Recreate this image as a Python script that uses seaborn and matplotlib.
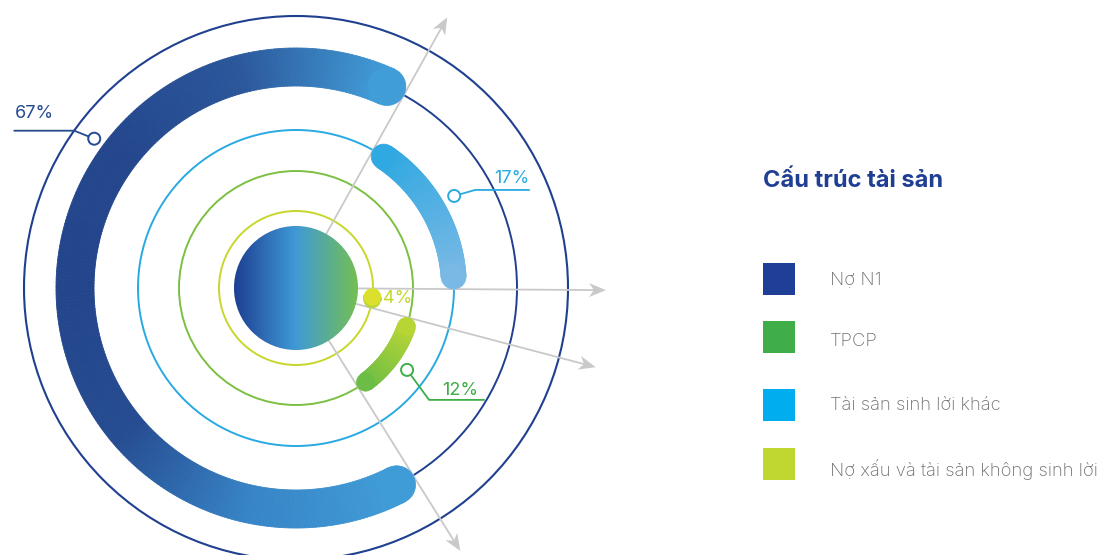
import numpy as np
import matplotlib
matplotlib.use("Agg")
import matplotlib.pyplot as plt
from matplotlib.collections import PolyCollection
from matplotlib.patches import Circle, Polygon
import seaborn as sns

# ---- data -------------------------------------------------------------
categories = ["Nợ N1", "TPCP", "Tài sản sinh lời khác", "Nợ xấu và tài sản không sinh lời"]
shares = [67, 12, 17, 4]
share_labels = ["67%", "12%", "17%", "4%"]
legend_title = "Cấu trúc tài sản"

# ---- styling ----------------------------------------------------------
sns.set_theme(style="white")
plt.rcParams["font.family"] = ["Inter", "DejaVu Sans"]

legend_colors = ["#1f3f96", "#3fae49", "#00aeef", "#bfd730"]
label_colors = ["#244a8f", "#3fae49", "#29aae1", "#c5d72a"]
ring_colors = ["#1f3f8f", "#7cc043", "#28a9e1", "#c8d72c"]
ring_radius = [221, 117, 158, 77]
arc_width = [38, 18, 25, 17]
arc_gradients = [
    ["#419dd8", "#2b579b", "#24468c", "#23458b", "#264c91", "#3784c6", "#409cd7"],
    ["#6cbd45", "#b8d536"],
    ["#7ab9e5", "#30a8e1"],
    ["#b8d337", "#dae02b"],
]
sector_order = [1, 3, 2, 0]       # counter-clockwise from the start angle
start_angle = -58.0

W, H = 1103, 555
fig = plt.figure(figsize=(W / 100, H / 100), dpi=100)
ax = fig.add_axes([0, 0, 1, 1])
cx, cy = 296, 288
outer_r, disk_r = 272, 62


def pt(r, ang):
    a = np.radians(ang)
    return np.array([cx + r * np.cos(a), cy - r * np.sin(a)])


def gradient_arc(a0, a1, r, w, colors, n=260, z=4):
    cmap = sns.blend_palette(colors, as_cmap=True)
    th = np.linspace(np.radians(a0), np.radians(a1), n + 1)
    ri, ro = r - w / 2, r + w / 2
    polys = []
    for k in range(n):
        t = np.linspace(th[k], th[k + 1], 3)
        outer = np.c_[cx + ro * np.cos(t), cy - ro * np.sin(t)]
        inner = np.c_[cx + ri * np.cos(t[::-1]), cy - ri * np.sin(t[::-1])]
        polys.append(np.vstack([outer, inner]))
    cols = cmap(np.linspace(0, 1, n))
    ax.add_collection(PolyCollection(polys, facecolors=cols, edgecolors=cols,
                                     linewidths=0.6, zorder=z))
    for ang, c in ((a0, cols[0]), (a1, cols[-1])):
        ax.add_patch(Circle(pt(r, ang), w / 2, fc=c, ec=c, lw=0.5, zorder=z))


# thin guide rings
ax.add_patch(Circle((cx, cy), outer_r, fill=False, ec="#1f3f8f", lw=1.5, zorder=1))
for i in range(4):
    ax.add_patch(Circle((cx, cy), ring_radius[i], fill=False, ec=ring_colors[i],
                        lw=1.4, zorder=1))

# sectors: each share takes its proportion of the full turn
bounds = {}
a = start_angle
for i in sector_order:
    sweep = shares[i] / 100 * 360
    bounds[i] = (a, a + sweep)
    a += sweep

# boundary arrows
arrow_color = "#c9c9c9"
for i in sector_order:
    ang = bounds[i][0]
    u = np.array([np.cos(np.radians(ang)), -np.sin(np.radians(ang))])
    v = np.array([-u[1], u[0]])
    tip = pt(310, ang)
    notch = tip - 12 * u
    back = tip - 17 * u
    ax.plot(*np.c_[pt(disk_r - 2, ang), notch], color=arrow_color, lw=1.3,
            solid_capstyle="butt", zorder=2)
    ax.add_patch(Polygon([tip, back + 7 * v, notch, back - 7 * v], closed=True,
                         fc=arrow_color, ec="none", zorder=2))

# thick value arcs, inset so the rounded ends sit inside each sector
mids = {}
for i in range(4):
    a0, a1 = bounds[i]
    cap = np.degrees((arc_width[i] / 2) / ring_radius[i])
    s0, s1 = a0 + cap, a1 - cap
    if s1 < s0:
        s0 = s1 = (a0 + a1) / 2
    gradient_arc(s0, s1, ring_radius[i], arc_width[i], arc_gradients[i])
    mids[i] = (a0 + a1) / 2

# centre disk with a horizontal gradient
grad = sns.blend_palette(["#1e3f92", "#3f9ad6", "#74bf52"], as_cmap=True)
img = ax.imshow(np.linspace(0, 1, 256)[None, :], cmap=grad, aspect="auto",
                extent=(cx - disk_r, cx + disk_r, cy + disk_r, cy - disk_r),
                interpolation="bilinear", zorder=5)
clip = Circle((cx, cy), disk_r, transform=ax.transData)
img.set_clip_path(clip)


# percentage call-outs
def callout(i, ang, r, elbow_off, run, text_dx, text_dy, ha):
    c = label_colors[i]
    m = pt(r, ang)
    elbow = m + np.array(elbow_off)
    end = elbow + np.array([run, 0])
    d = elbow - m
    start = m + 6 * d / np.linalg.norm(d)
    ax.plot([start[0], elbow[0], end[0]], [start[1], elbow[1], end[1]],
            color=c, lw=1.3, zorder=6)
    ax.add_patch(Circle(m, 6, fc="white", ec=c, lw=1.4, zorder=6))
    ax.text(end[0] + text_dx, end[1] + text_dy, share_labels[i], color=c,
            fontsize=13, ha=ha, va="baseline", zorder=6)


callout(0, 143.5, 251, (-20, -8), -60, 1, -13, "left")
callout(2, mids[2], 183, (21, -6), 54, 0, -7, "right")
callout(1, mids[1], 138, (22, 30), 55, -6, -5, "right")
dot = pt(ring_radius[3], mids[3])
ax.text(dot[0] + arc_width[3] / 2 + 2, dot[1], share_labels[3], color=label_colors[3],
        fontsize=13, ha="left", va="center", zorder=6)

# legend
legend_y = [279, 337, 405, 464]
text_y = [279.5, 342, 406, 469]
sns.scatterplot(x=[779] * 4, y=legend_y, hue=categories, palette=legend_colors,
                marker="s", s=531, linewidth=0, legend=False, ax=ax, zorder=6)
ax.text(763, 181, legend_title, fontsize=17, fontweight="bold",
        color="#1f3f93", ha="left", va="center")
for i, name in enumerate(categories):
    ax.text(830, text_y[i], name, fontsize=13.3, color="#707070",
            ha="left", va="center", fontweight="light")

ax.set_xlim(0, W)
ax.set_ylim(H, 0)
ax.set_aspect("equal")
ax.axis("off")
fig.savefig("out.png", dpi=100, facecolor="white")
